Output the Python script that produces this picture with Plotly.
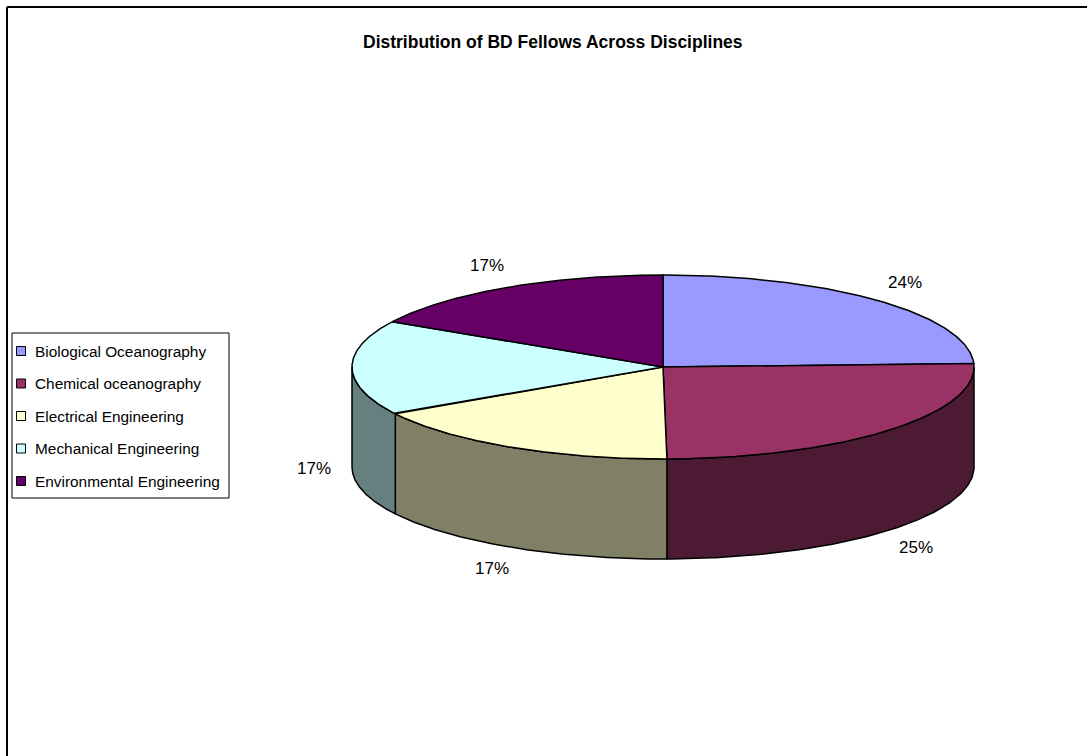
import numpy as np
import plotly.graph_objects as go

# ---------------- data ----------------
categories = [
    "Biological Oceanography",
    "Chemical oceanography",
    "Electrical Engineering",
    "Mechanical Engineering",
    "Environmental Engineering",
]
# share of fellows (%), estimated from slice geometry; labels round to 24/25/17/17/17
shares = [24.4, 25.4, 16.7, 16.7, 16.8]
title_text = "Distribution of BD Fellows Across Disciplines"

# ---------------- style ----------------
top_colors = ["#9999FF", "#993366", "#FFFFCC", "#CCFFFF", "#660066"]
side_colors = ["#4D4D80", "#4D1A33", "#808066", "#668080", "#330033"]
FONT = "Liberation Sans, Arial, sans-serif"

W, H = 1087, 756
CX, CY, RX, RY, DEPTH = 663, 367, 311, 92, 100   # pie geometry (pixels)

def ell(theta, dy=0.0):
    return CX + RX * np.sin(theta), CY - RY * np.cos(theta) + dy

fig = go.Figure()

vals = np.array(shares, dtype=float)
fr = vals / vals.sum()
pct = [int(round(100 * f)) for f in fr]
starts = np.concatenate([[0.0], np.cumsum(fr)[:-1]]) * 2 * np.pi
ends = np.cumsum(fr) * 2 * np.pi

# side walls (front half only)
for i in range(len(vals)):
    lo = max(starts[i], np.pi / 2)
    hi = min(ends[i], 3 * np.pi / 2)
    if hi > lo:
        t = np.linspace(lo, hi, 120)
        xt, yt = ell(t)
        xb, yb = ell(t[::-1], DEPTH)
        xs = np.concatenate([xt, xb, xt[:1]])
        ys = np.concatenate([yt, yb, yt[:1]])
        fig.add_trace(go.Scatter(x=xs, y=ys, mode="lines", fill="toself",
                                 fillcolor=side_colors[i],
                                 line=dict(color="black", width=1.5),
                                 hoverinfo="skip", showlegend=False))

# top faces
for i in range(len(vals)):
    t = np.linspace(starts[i], ends[i], 160)
    xa, ya = ell(t)
    xs = np.concatenate([[CX], xa, [CX]])
    ys = np.concatenate([[CY], ya, [CY]])
    fig.add_trace(go.Scatter(x=xs, y=ys, mode="lines", fill="toself",
                             fillcolor=top_colors[i],
                             line=dict(color="black", width=1.5),
                             name=categories[i],
                             hovertemplate=f"{categories[i]}: {pct[i]}%<extra></extra>",
                             showlegend=False))

annotations = []
# percentage labels
GX, GY = 38, 25
mids = (starts + ends) / 2
for i in range(len(vals)):
    m = mids[i]
    lx = CX + (RX + GX) * np.sin(m)
    ly = CY - (RY + GY) * np.cos(m) + (DEPTH if np.cos(m) < 0 else 0)
    annotations.append(dict(x=lx, y=ly, xref="x", yref="y", text=f"{pct[i]}%",
                            showarrow=False, xanchor="center", yanchor="middle",
                            font=dict(family=FONT, size=17, color="black")))

# title
annotations.append(dict(x=553, y=42, xref="x", yref="y", text=f"<b>{title_text}</b>",
                        showarrow=False, xanchor="center", yanchor="middle",
                        font=dict(family=FONT, size=17.5, color="black")))

# custom legend
LEG_X0, LEG_Y0, LEG_X1, LEG_Y1 = 12, 333, 229, 498
ROW0, ROW_STEP, SQ_X, TXT_X = 351, 32.5, 21, 33
shapes = [
    dict(type="rect", xref="x", yref="y", x0=LEG_X0, y0=LEG_Y0, x1=LEG_X1, y1=LEG_Y1,
         line=dict(color="black", width=1), fillcolor="white", layer="below"),
    dict(type="line", xref="x", yref="y", x0=7, y0=7, x1=W + 5, y1=7,
         line=dict(color="black", width=2)),
    dict(type="line", xref="x", yref="y", x0=7, y0=7, x1=7, y1=H + 5,
         line=dict(color="black", width=2)),
]
rows = [ROW0 + k * ROW_STEP for k in range(len(categories))]
fig.add_trace(go.Scatter(x=[SQ_X] * len(categories), y=rows, mode="markers",
                         marker=dict(symbol="square", size=9, color=top_colors,
                                     line=dict(color="black", width=1)),
                         hoverinfo="skip", showlegend=False))
for k, c in enumerate(categories):
    annotations.append(dict(x=TXT_X, y=rows[k], xref="x", yref="y", text=c,
                            showarrow=False, xanchor="left", yanchor="middle",
                            font=dict(family=FONT, size=15.4, color="black")))

fig.update_layout(
    width=W, height=H,
    margin=dict(l=0, r=0, t=0, b=0),
    paper_bgcolor="white", plot_bgcolor="white",
    xaxis=dict(range=[0, W], visible=False, fixedrange=True),
    yaxis=dict(range=[H, 0], visible=False, fixedrange=True),
    showlegend=False,
    annotations=annotations,
    shapes=shapes,
)

fig.write_html("out.html")
